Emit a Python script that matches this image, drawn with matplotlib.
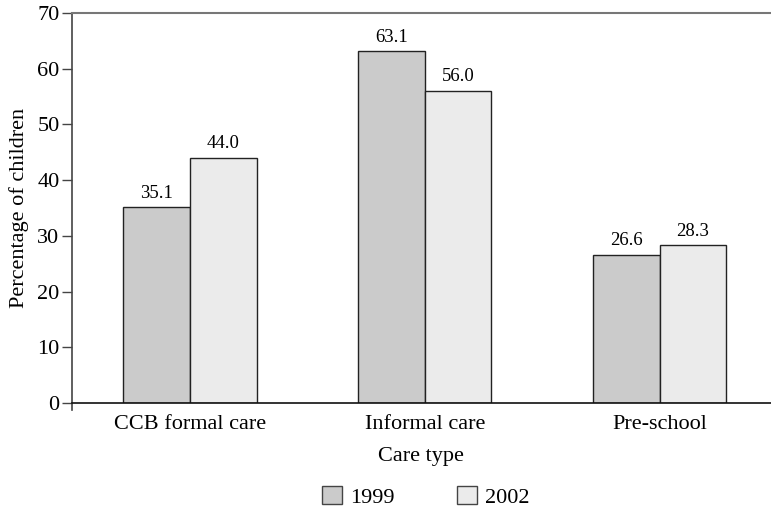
import matplotlib
matplotlib.use("Agg")
import matplotlib.pyplot as plt
import numpy as np
from matplotlib.patches import Patch

categories = ["CCB formal care", "Informal care", "Pre-school"]
years = ["1999", "2002"]
values_1999 = [35.1, 63.1, 26.6]
values_2002 = [44.0, 56.0, 28.3]
yticks = [0, 10, 20, 30, 40, 50, 60, 70]

plt.rcParams['font.family'] = ['Liberation Serif', 'DejaVu Serif']

fig = plt.figure(figsize=(7.71, 5.11), dpi=100)
ax = fig.add_axes([0.0934, 0.2114, 0.906, 0.7632])

x = np.arange(len(categories))
w = 0.284
c1, c2 = "#cbcbcb", "#ebebeb"
b1 = ax.bar(x - w/2, values_1999, w, color=c1, edgecolor="#222222", linewidth=1.0)
b2 = ax.bar(x + w/2, values_2002, w, color=c2, edgecolor="#222222", linewidth=1.0)

for bars, vals in ((b1, values_1999), (b2, values_2002)):
    for r, v in zip(bars, vals):
        ax.text(r.get_x() + r.get_width()/2, v + 1.0, f"{v:.1f}",
                ha="center", va="bottom", fontsize=13.5)

ax.set_xlim(-0.503, 2.473)
ax.set_ylim(0, 70)
ax.set_yticks(yticks)
ax.set_xticks(x)
ax.set_xticklabels(categories, fontsize=16)
ax.tick_params(axis="x", length=0, pad=9)
ax.tick_params(axis="y", labelsize=16, length=7, width=1, color="#444444", direction="out", pad=2)

ax.spines["right"].set_visible(False)
ax.spines["top"].set_color("#777777")
ax.spines["top"].set_linewidth(1.5)
ax.spines["left"].set_color("#444444")
ax.spines["left"].set_linewidth(1.2)
ax.spines["left"].set_bounds(-1.2, 70)
ax.spines["bottom"].set_color("#111111")
ax.spines["bottom"].set_linewidth(1.2)

ax.set_xlabel("Care type", fontsize=16, labelpad=9)
ax.set_ylabel("Percentage of children", fontsize=16, labelpad=6)

handles = [Patch(facecolor=c1, edgecolor="#444444", label=years[0]),
           Patch(facecolor=c2, edgecolor="#444444", label=years[1])]
fig.legend(handles=handles, loc="center", bbox_to_anchor=(0.5525, 0.028), ncol=2,
           frameon=False, fontsize=16, handlelength=0.9, handleheight=0.9,
           handletextpad=0.36, columnspacing=2.8)

fig.savefig("out.png", dpi=100)
